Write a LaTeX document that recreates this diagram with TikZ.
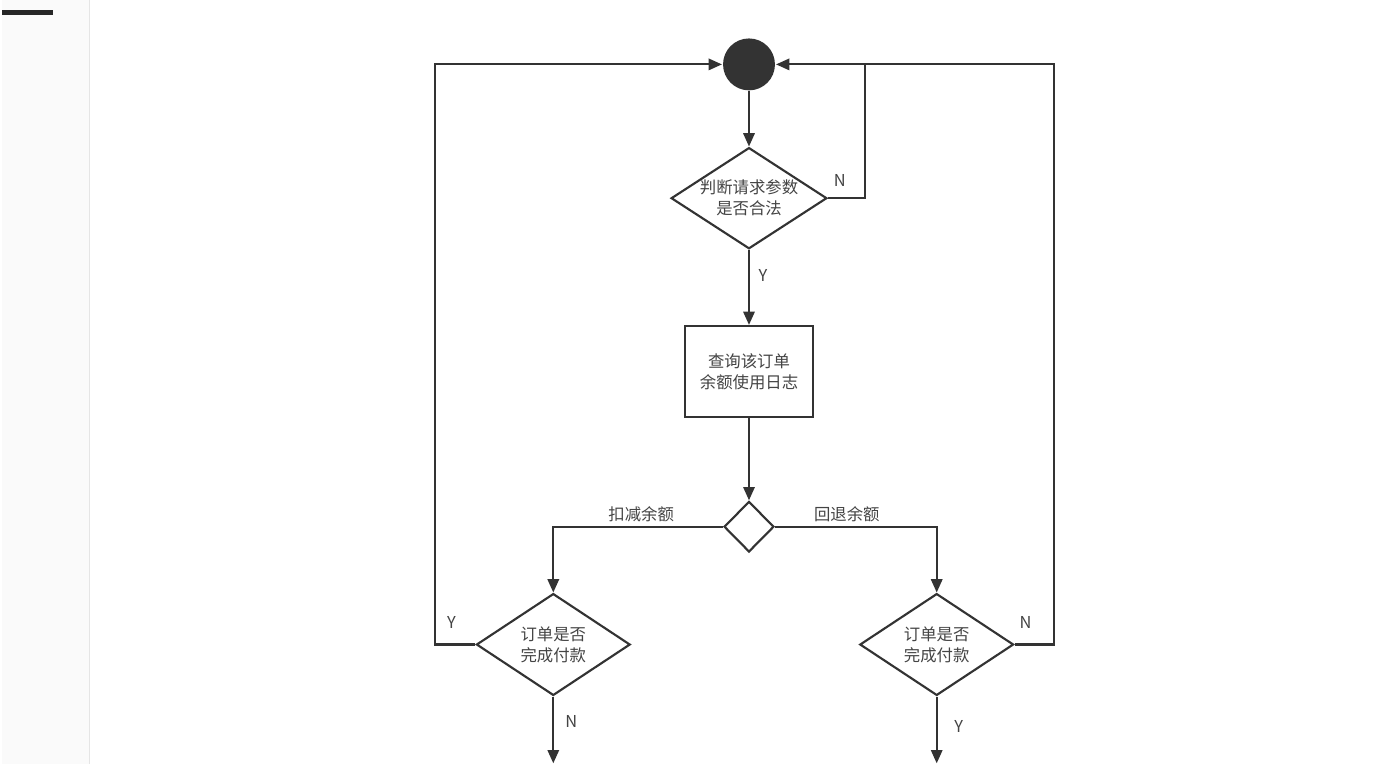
\documentclass[tikz,border=0pt]{standalone}
\usepackage{fontspec}
\newfontfamily\cjk{Noto Sans CJK SC}
\usepackage{xcolor}
\usetikzlibrary{arrows.meta,positioning,shapes.geometric}
\definecolor{ink}{HTML}{333333}
\definecolor{txtgray}{HTML}{444444}

\begin{document}
\begin{tikzpicture}[x=0.75pt,y=-0.75pt,>={Triangle[length=10pt,width=8.5pt]},line width=1.6pt,
  every node/.style={font=\cjk\fontsize{12.3}{15.8}\selectfont, text=txtgray}]
\tikzstyle{decide}=[draw=ink, diamond, inner sep=0pt, line width=1.6pt]
\tikzstyle{box}=[draw=ink, rectangle, minimum width=96.75pt, minimum height=68.25pt, align=center, line width=1.6pt]
\tikzstyle{flow}=[draw=ink, ->]
\tikzstyle{wire}=[draw=ink]
% page frame
\fill[white] (0,0) rectangle (1400,765);
\fill[gray!4] (0,0) rectangle (87,765);
\draw[gray!20, line width=0.75pt] (87.5,0) -- (87.5,765);
\draw[black!85, line width=3.2pt] (0,12) -- (51,12);
% nodes
\node[circle, fill=ink, minimum size=39pt, inner sep=0pt] (start) at (748,64) {};
\node[decide, minimum width=117pt, minimum height=76pt,
  label={[align=center]center:判断请求参数\\是否合法}] (chk) at (748,198) {};
\node[box] (qry) at (748,371.5) {查询该订单\\余额使用日志};
\node[decide, minimum width=37.5pt, minimum height=38pt] (sw) at (748,527) {};
\node[decide, minimum width=115.5pt, minimum height=76.5pt,
  label={[align=center]center:订单是否\\完成付款}] (payL) at (552,645) {};
\node[decide, minimum width=115.5pt, minimum height=76.5pt,
  label={[align=center]center:订单是否\\完成付款}] (payR) at (936,645) {};
\coordinate (jn) at (864,64);
\coordinate (endL) at (552,764);
\coordinate (endR) at (936,764);
% connectors
\draw[flow] (start) -- (chk);
\draw[flow] (chk) -- (qry);
\draw[flow] (qry) -- (sw);
\draw[flow] (sw.west) -| (payL.north);
\draw[flow] (sw.east) -| (payR.north);
\draw[flow] (payL.west) -- ++(-40,0) |- (start.west);
\draw[flow] (payR.east) -- ++(39,0) |- (start.east);
\draw[wire] (chk.east) -| (jn);
\draw[flow] (payL) -- (endL);
\draw[flow] (payR) -- (endR);
% labels
\node (nChk) at (839,180) {N};
\node (yChk) at (762,275) {Y};
\node (lbDeduct) at (640,515) {扣减余额};
\node (lbRefund) at (846,515) {回退余额};
\node (yPayL) at (450,623) {Y};
\node (nPayR) at (1025,623) {N};
\node (nPayL) at (570,722) {N};
\node (yPayR) at (958,727) {Y};
\end{tikzpicture}
\end{document}
